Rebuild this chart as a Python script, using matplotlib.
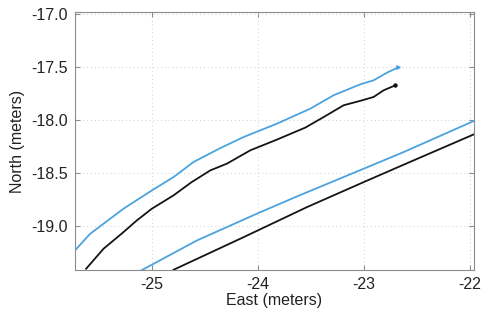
import matplotlib
matplotlib.use("Agg")
import matplotlib.pyplot as plt
from matplotlib.ticker import FormatStrFormatter

# === DATA ===
# upper pair of tracks
upper_blue_east = [-25.77, -25.583, -25.268, -25.0, -24.796, -24.607, -24.354, -24.134,
                   -23.819, -23.504, -23.284, -23.032, -22.906, -22.779, -22.672]
upper_blue_north = [-19.276, -19.072, -18.836, -18.664, -18.539, -18.397, -18.266, -18.162,
                    -18.036, -17.895, -17.769, -17.666, -17.628, -17.556, -17.506]

upper_black_east = [-25.621, -25.457, -25.268, -25.142, -25.0, -24.796, -24.629, -24.449,
                    -24.291, -24.071, -23.819, -23.551, -23.378, -23.189, -23.031,
                    -22.906, -22.811, -22.70]
upper_black_north = [-19.401, -19.213, -19.056, -18.946, -18.836, -18.711, -18.589, -18.476,
                     -18.412, -18.287, -18.186, -18.073, -17.974, -17.863, -17.821,
                     -17.785, -17.722, -17.675]

# lower pair of tracks
lower_blue_east = [-25.095, -24.575, -24.008, -23.629, -23.0, -22.622, -21.96]
lower_blue_north = [-19.414, -19.135, -18.883, -18.720, -18.460, -18.303, -18.011]

lower_black_east = [-24.796, -24.134, -23.535, -23.0, -22.622, -21.96]
lower_black_north = [-19.411, -19.104, -18.821, -18.586, -18.422, -18.137]

x_ticks = [-25, -24, -23, -22]
y_ticks = [-19.0, -18.5, -18.0, -17.5, -17.0]

BLUE = '#4ba3de'
BLACK = '#141414'
LW = 1.3

plt.rcParams['font.family'] = ['Liberation Sans', 'DejaVu Sans']

fig = plt.figure(figsize=(5.04, 3.16), dpi=100)
ax = fig.add_axes([0.148, 0.1465, 0.792, 0.814])

ax.plot(upper_blue_east, upper_blue_north, color=BLUE, lw=LW)
ax.plot(upper_black_east, upper_black_north, color=BLACK, lw=LW)
ax.plot(lower_blue_east, lower_blue_north, color=BLUE, lw=LW)
ax.plot(lower_black_east, lower_black_north, color=BLACK, lw=LW)

# little end markers on the upper tracks
ax.plot(upper_blue_east[-1:], upper_blue_north[-1:], marker='>', ms=2.5, color=BLUE)
ax.plot(upper_black_east[-1:], upper_black_north[-1:], marker='o', ms=2.2, color=BLACK)

ax.set_xlim(-25.73, -21.96)
ax.set_ylim(-19.41, -16.99)
ax.set_xticks(x_ticks)
ax.set_yticks(y_ticks)
ax.yaxis.set_major_formatter(FormatStrFormatter('%.1f'))
ax.xaxis.set_major_formatter(FormatStrFormatter('%d'))

ax.grid(True, linestyle=(0, (1, 3)), color='#cfcfcf', lw=0.7)
ax.set_axisbelow(True)
for s in ax.spines.values():
    s.set_color('#8c8c8c')
    s.set_linewidth(0.8)
ax.tick_params(direction='in', length=3.5, width=0.8, color='#8c8c8c',
               labelsize=11.5, labelcolor='#222222', top=True, right=True, pad=5)

ax.set_xlabel('East (meters)', fontsize=11.5, color='#222222', labelpad=1)
ax.set_ylabel('North (meters)', fontsize=11.5, color='#222222', labelpad=4)

fig.savefig('out.png', dpi=100)
